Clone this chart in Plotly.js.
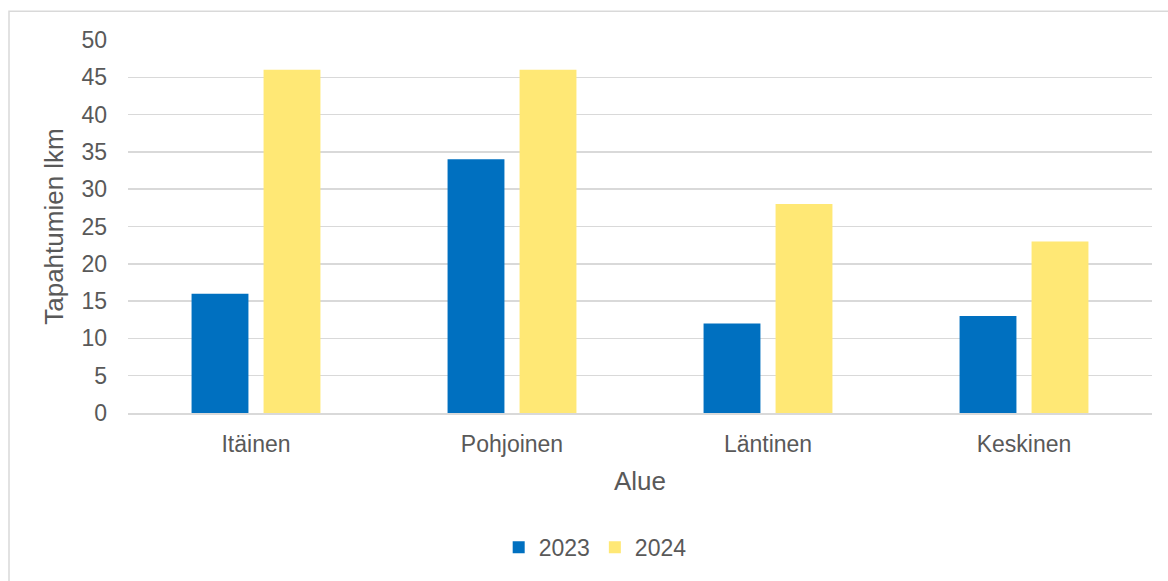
<!DOCTYPE html>
<html>
<head>
<meta charset="utf-8">
<script src="https://cdn.plot.ly/plotly-3.0.1.min.js"></script>
<style>
html,body{margin:0;padding:0;background:#fff;}
#chart{width:1168px;height:581px;}
</style>
</head>
<body>
<div id="chart"></div>
<script>
const categories = ["Itäinen", "Pohjoinen", "Läntinen", "Keskinen"];
const values2023 = [16, 34, 12, 13];
const values2024 = [46, 46, 28, 23];
const seriesNames = ["2023", "2024"];
const yTicks = [0, 5, 10, 15, 20, 25, 30, 35, 40, 45, 50];

const textColor = "#595959";
const fontFamily = "'Liberation Sans', Arial, sans-serif";

const traces = [
  {type: "bar", name: seriesNames[0], x: categories, y: values2023,
   marker: {color: "#0070C0"}, hoverinfo: "skip"},
  {type: "bar", name: seriesNames[1], x: categories, y: values2024,
   marker: {color: "#FFE875"}, hoverinfo: "skip"}
];

const layout = {
  width: 1168, height: 581,
  margin: {l: 128, r: 16, t: 40, b: 166},
  paper_bgcolor: "#ffffff", plot_bgcolor: "#ffffff",
  font: {family: fontFamily, color: textColor, size: 23},
  barmode: "group",
  bargap: 0.4375,
  bargroupgap: 0.21,
  showlegend: true,
  legend: {
    orientation: "h", x: 0.362, xanchor: "left", y: -0.36, yanchor: "middle",
    font: {size: 23, color: textColor}, itemwidth: 30, traceorder: "normal"
  },
  xaxis: {
    showgrid: false, showline: true, linecolor: "#D9D9D9", linewidth: 1.5,
    ticks: "", ticklabelstandoff: 10,
    tickfont: {size: 23, color: textColor},
    title: {text: "Alue", font: {size: 26, color: textColor}, standoff: 15}
  },
  yaxis: {
    range: [0, 50], tickvals: yTicks, showgrid: true, gridcolor: "#D9D9D9",
    gridwidth: 1.5, zeroline: false, showline: false, ticks: "",
    ticklabelstandoff: 20,
    tickfont: {size: 23, color: textColor},
    title: {text: "Tapahtumien lkm", font: {size: 26, color: textColor}, standoff: 10}
  },
  shapes: [{
    type: "rect", xref: "paper", yref: "paper",
    x0: (9 - 128) / 1024, x1: (1190 - 128) / 1024,
    y0: (415 - 600) / 375, y1: (415 - 11) / 375,
    line: {color: "#D9D9D9", width: 1.5}, fillcolor: "rgba(0,0,0,0)", layer: "below"
  }]
};

Plotly.newPlot("chart", traces, layout, {displayModeBar: false, staticPlot: true});
</script>
</body>
</html>
